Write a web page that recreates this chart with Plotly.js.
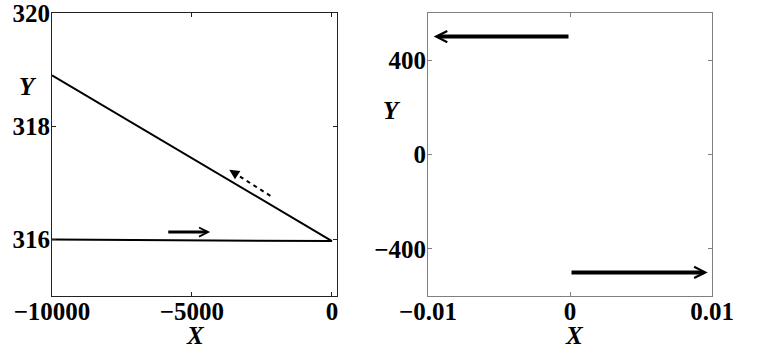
<!DOCTYPE html>
<html>
<head>
<meta charset="utf-8">
<script src="https://cdn.plot.ly/plotly-3.0.1.min.js"></script>
<style>html,body{margin:0;padding:0;background:#fff;}#chart{width:757px;height:360px;}</style>
</head>
<body>
<div id="chart"></div>
<script>
// Left panel data
const flatX = [-10000, 0];
const flatY = [316.0, 315.97];
const slopeX = [0, -10000];
const slopeY = [315.97, 318.9];
const solidArrowLeft = {x0: -5900, y0: 316.13, x1: -4350, y1: 316.13};
const dashArrowLeft = {x0: -2200, y0: 316.77, x1: -3670, y1: 317.23};
const leftXTicks = [-10000, -5000, 0];
const leftXLabels = ['\u221210000', '\u22125000', '0'];
const leftYTicks = [316, 318, 320];

// Right panel data
const upperArrow = {x0: 0, y0: 500, x1: -0.0096, y1: 500};
const lowerArrow = {x0: 0, y0: -500, x1: 0.0097, y1: -500};
const rightXTicks = [-0.01, 0, 0.01];
const rightXLabels = ['\u22120.01', '0', '0.01'];
const rightYTicks = [-400, 0, 400];
const rightYLabels = ['\u2212400', '0', '400'];

const FAM = 'Liberation Serif';
const tickFont = {family: FAM, size: 25, color: '#000', weight: 'bold'};
const titleFont = {family: FAM, size: 25, color: '#000', weight: 'bold', style: 'italic'};

const traces = [
  {x: flatX, y: flatY, mode: 'lines', line: {color: '#000', width: 2}, xaxis: 'x', yaxis: 'y', hoverinfo: 'skip'},
  {x: slopeX, y: slopeY, mode: 'lines', line: {color: '#000', width: 2}, xaxis: 'x', yaxis: 'y', hoverinfo: 'skip'},
  {x: [dashArrowLeft.x0, dashArrowLeft.x0 + 0.85 * (dashArrowLeft.x1 - dashArrowLeft.x0)],
   y: [dashArrowLeft.y0, dashArrowLeft.y0 + 0.85 * (dashArrowLeft.y1 - dashArrowLeft.y0)],
   mode: 'lines', line: {color: '#000', width: 2, dash: '4px,4px'}, xaxis: 'x', yaxis: 'y', hoverinfo: 'skip'}
];

function arrow(a, xr, yr, width, head, size) {
  return {x: a.x1, y: a.y1, ax: a.x0, ay: a.y0, xref: xr, yref: yr, axref: xr, ayref: yr,
    text: '', showarrow: true, arrowhead: head, arrowsize: size, arrowwidth: width,
    arrowcolor: '#000', standoff: 0, startstandoff: 0};
}

const headTail = {
  x0: dashArrowLeft.x1 + 0.12 * (dashArrowLeft.x0 - dashArrowLeft.x1),
  y0: dashArrowLeft.y1 + 0.12 * (dashArrowLeft.y0 - dashArrowLeft.y1),
  x1: dashArrowLeft.x1, y1: dashArrowLeft.y1
};

const annotations = [
  arrow(solidArrowLeft, 'x', 'y', 3, 5, 0.6),
  arrow(headTail, 'x', 'y', 2, 2, 1.0),
  arrow(upperArrow, 'x2', 'y2', 4, 5, 0.55),
  arrow(lowerArrow, 'x2', 'y2', 4, 5, 0.55),
  {text: 'Y', x: 28 / 757, y: 1 - 86 / 360, xref: 'paper', yref: 'paper', showarrow: false, font: titleFont, xanchor: 'center', yanchor: 'middle'},
  {text: 'X', x: 195 / 757, y: 1 - 335 / 360, xref: 'paper', yref: 'paper', showarrow: false, font: titleFont, xanchor: 'center', yanchor: 'middle'},
  {text: 'Y', x: 392 / 757, y: 1 - 110 / 360, xref: 'paper', yref: 'paper', showarrow: false, font: titleFont, xanchor: 'center', yanchor: 'middle'},
  {text: 'X', x: 574 / 757, y: 1 - 335 / 360, xref: 'paper', yref: 'paper', showarrow: false, font: titleFont, xanchor: 'center', yanchor: 'middle'}
];

const yDom = [1 - 296 / 360, 1 - 13 / 360];
const common = {showgrid: false, zeroline: false, showline: true, mirror: 'ticks', ticks: 'inside', ticklen: 4, tickwidth: 1,
  tickfont: tickFont, fixedrange: true, ticklabeloverflow: 'allow', automargin: false};

const layout = {
  width: 757, height: 360,
  margin: {l: 0, r: 0, t: 0, b: 0},
  paper_bgcolor: '#fff', plot_bgcolor: '#fff',
  showlegend: false,
  xaxis: Object.assign({}, common, {domain: [52 / 757, 337 / 757], range: [-10000, 180], tickvals: leftXTicks, ticktext: leftXLabels, linecolor: '#222', tickcolor: '#222', anchor: 'y', ticklabelstandoff: -7}),
  yaxis: Object.assign({}, common, {domain: yDom, range: [315, 320], tickvals: leftYTicks, linecolor: '#222', tickcolor: '#222', anchor: 'x', ticklabelstandoff: -4}),
  xaxis2: Object.assign({}, common, {domain: [428 / 757, 712 / 757], range: [-0.01, 0.01], tickvals: rightXTicks, ticktext: rightXLabels, linecolor: '#808080', tickcolor: '#808080', anchor: 'y2', ticklabelstandoff: -7}),
  yaxis2: Object.assign({}, common, {domain: yDom, range: [-600, 600], tickvals: rightYTicks, ticktext: rightYLabels, linecolor: '#808080', tickcolor: '#808080', anchor: 'x2', ticklabelstandoff: -4}),
  annotations: annotations
};

Plotly.newPlot('chart', traces, layout, {staticPlot: true, displayModeBar: false});
</script>
</body>
</html>
